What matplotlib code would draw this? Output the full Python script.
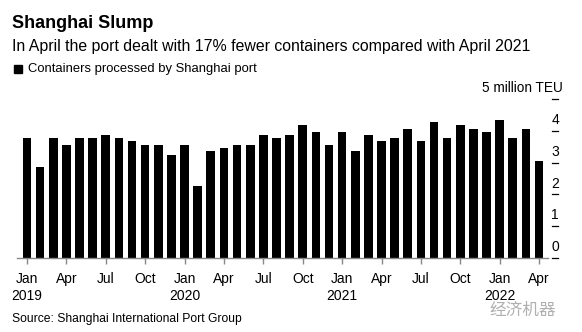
import matplotlib
matplotlib.use('Agg')
import matplotlib.pyplot as plt
import numpy as np

plt.rcParams['font.family'] = ['Liberation Sans', 'DejaVu Sans']

# monthly throughput, million TEU, Jan 2019 .. Apr 2022
teu_2019 = [3.77, 2.87, 3.77, 3.56, 3.77, 3.77, 3.87, 3.77, 3.67, 3.56, 3.56, 3.25]
teu_2020 = [3.56, 2.26, 3.37, 3.47, 3.56, 3.56, 3.87, 3.77, 3.87, 4.17, 3.97, 3.56]
teu_2021 = [3.97, 3.37, 3.87, 3.67, 3.77, 4.05, 3.67, 4.27, 3.77, 4.17, 4.05, 3.97]
teu_2022 = [4.35, 3.77, 4.05, 3.05]
values = teu_2019 + teu_2020 + teu_2021 + teu_2022

months = ['Jan', 'Apr', 'Jul', 'Oct']
years = ['2019', '2020', '2021', '2022']
y_ticks = [0, 1, 2, 3, 4]

W, H = 582, 332
fig = plt.figure(figsize=(W / 100, H / 100), dpi=100)

# axes placed in pixel units
left, right, top, bottom = 17, 548, 99, 258
ax = fig.add_axes([left / W, 1 - bottom / H, (right - left) / W, (bottom - top) / H])

x = np.arange(len(values))
ax.bar(x, values, width=0.66, color='black', zorder=2)
ax.set_xlim(-0.76, 39.68)
ax.set_ylim(0, 5)

for s in ax.spines.values():
    s.set_visible(False)
ax.set_yticks([])
ax.axhline(0, color='#888888', lw=1.0, zorder=3, clip_on=False)

# quarterly ticks
qpos = np.arange(0, len(values), 3)
ax.set_xticks(qpos)
labels = []
for p in qpos:
    m = months[(p % 12) // 3]
    if p % 12 == 0:
        m = m + '\n' + years[p // 12]
    labels.append(m)
ax.set_xticklabels(labels, fontsize=10, linespacing=1.3, va='top')
ax.tick_params(axis='x', length=4, width=1, color='#888888', pad=6)

# right-hand value scale, label above each dash
trans = ax.get_yaxis_transform()
x0 = (552 - left) / (right - left)
x1 = (558 - left) / (right - left)
for v in y_ticks + [5]:
    ax.plot([x0, x1], [v, v], transform=trans, color='black', lw=0.9, clip_on=False)
for v in y_ticks:
    ax.text((x0 + x1) / 2, v + 0.34, str(v), transform=trans, ha='center', va='center',
            fontsize=10)
ax.text(563 / W, 1 - 88 / H, '5 million TEU', transform=fig.transFigure, ha='right',
        va='center', fontsize=9.8)

# header
fig.text(12 / W, 1 - 24 / H, 'Shanghai Slump', fontsize=13, fontweight='bold', va='center')
fig.text(12 / W, 1 - 46 / H,
         'In April the port dealt with 17% fewer containers compared with April 2021',
         fontsize=11.4, va='center')
fig.patches.append(plt.Rectangle((14 / W, 1 - 73 / H), 8 / W, 8 / H, transform=fig.transFigure,
                                 color='black'))
fig.text(28 / W, 1 - 69 / H, 'Containers processed by Shanghai port', fontsize=9.4, va='center')

# footer
fig.text(12 / W, 1 - 319 / H, 'Source: Shanghai International Port Group', fontsize=8.7,
         va='center')
fig.text(556 / W, 1 - 310 / H, '经济机器', fontsize=12, color='#b0b0b0', ha='right', va='center',
         family=['Noto Sans CJK SC', 'DejaVu Sans'])

fig.savefig('out.png', dpi=100)
